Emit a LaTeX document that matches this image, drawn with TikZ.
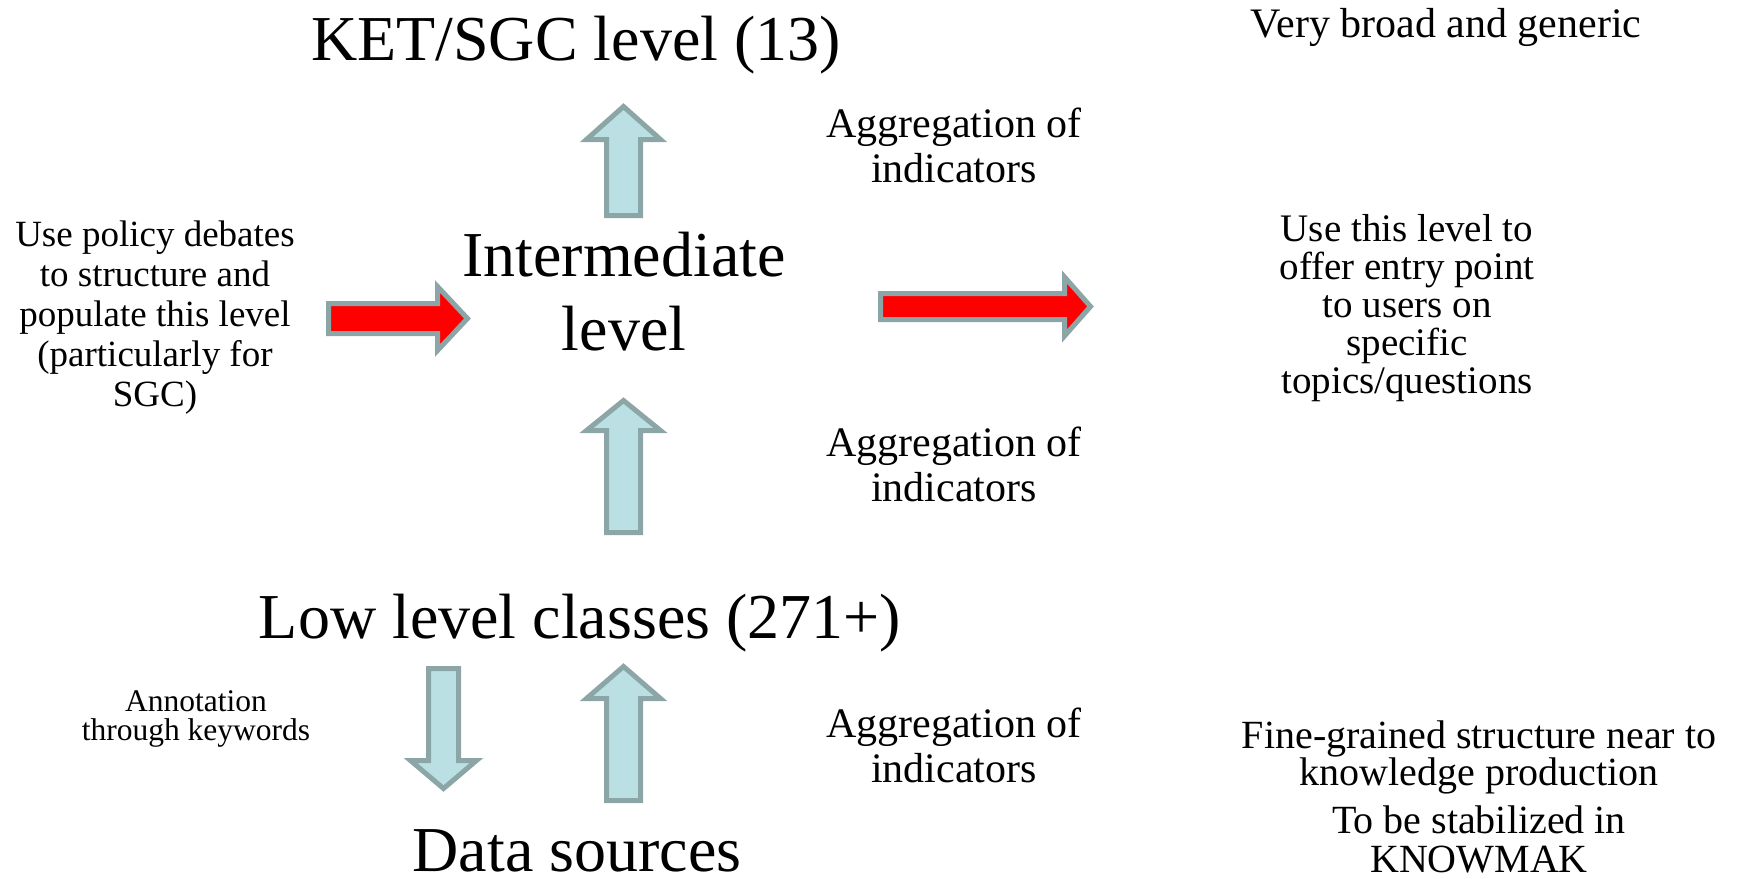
\documentclass[tikz,border=0pt]{standalone}
\usepackage{fontspec}
\setmainfont{Liberation Serif}
\definecolor{arrline}{RGB}{140,166,168}
\definecolor{arrfill}{RGB}{187,224,227}

\begin{document}
\begin{tikzpicture}[x=1pt,y=-1pt,
    bluearr/.style={draw=arrline,fill=arrfill,line width=5pt,line join=miter},
    redarr/.style={draw=arrline,fill=red,line width=5pt,line join=miter},
    big/.style={anchor=base,align=center,inner sep=0pt,font=\fontsize{64}{74}\selectfont},
    note/.style={anchor=base,align=center,inner sep=0pt}]
        \useasboundingbox (0,0) rectangle (1737,878);
        % anchor=base is the baseline of the last line
        \node[big] (ket) at (576,60) {KET/SGC level (13)};
        \node[big] (inter) at (624,350) {Intermediate\\level};
        \node[big] (low) at (580,638) {Low level classes (271+)};
        \node[big] (data) at (577,871) {Data sources};
        \node[note,font=\fontsize{42}{45}\selectfont] (broad) at (1446,37) {Very broad and generic};
        \foreach \n/\y in {aggtop/182,aggmid/501,aggbot/782}
            \node[note,font=\fontsize{42}{45}\selectfont] (\n) at (954,\y) {Aggregation of\\indicators};
        \node[note,font=\fontsize{37}{40}\selectfont] (policy) at (155,406) {Use policy debates\\to structure and\\populate this level\\(particularly for\\SGC)};
        \node[note,font=\fontsize{39}{38}\selectfont] (entry) at (1407,393) {Use this level to\\offer entry point\\to users on\\specific\\topics/questions};
        \node[note,font=\fontsize{31.5}{29}\selectfont] (annot) at (196,740) {Annotation\\through keywords};
        \node[note,font=\fontsize{40}{37}\selectfont] (fine) at (1479,785) {Fine-grained structure near to\\knowledge production};
        \node[note,font=\fontsize{40}{39}\selectfont] (stab) at (1479,872) {To be stabilized in\\KNOWMAK};
        % up arrows: tip/head base/bottom
        \foreach \t/\b/\e in {106.5/139.5/215.5,400.5/430.5/532.5,666.5/698.5/800.5}
            \draw[bluearr] (606.5,\e) -- (606.5,\b) -- (586.5,\b) -- (623.5,\t) -- (660.5,\b) -- (640.5,\b) -- (640.5,\e) -- cycle;
        \draw[bluearr] (428.5,668.5) -- (428.5,760.5) -- (410.5,760.5) -- (443.5,788.5) -- (476.5,760.5) -- (458.5,760.5) -- (458.5,668.5) -- cycle;
        \draw[redarr] (328.5,303.5) -- (437.5,303.5) -- (437.5,286.5) -- (467.5,318.5) -- (437.5,350.5) -- (437.5,333.5) -- (328.5,333.5) -- cycle;
        \draw[redarr] (880.5,293.5) -- (1064.5,293.5) -- (1064.5,277) -- (1090.5,306.5) -- (1064.5,336) -- (1064.5,319.5) -- (880.5,319.5) -- cycle;
\end{tikzpicture}
\end{document}
